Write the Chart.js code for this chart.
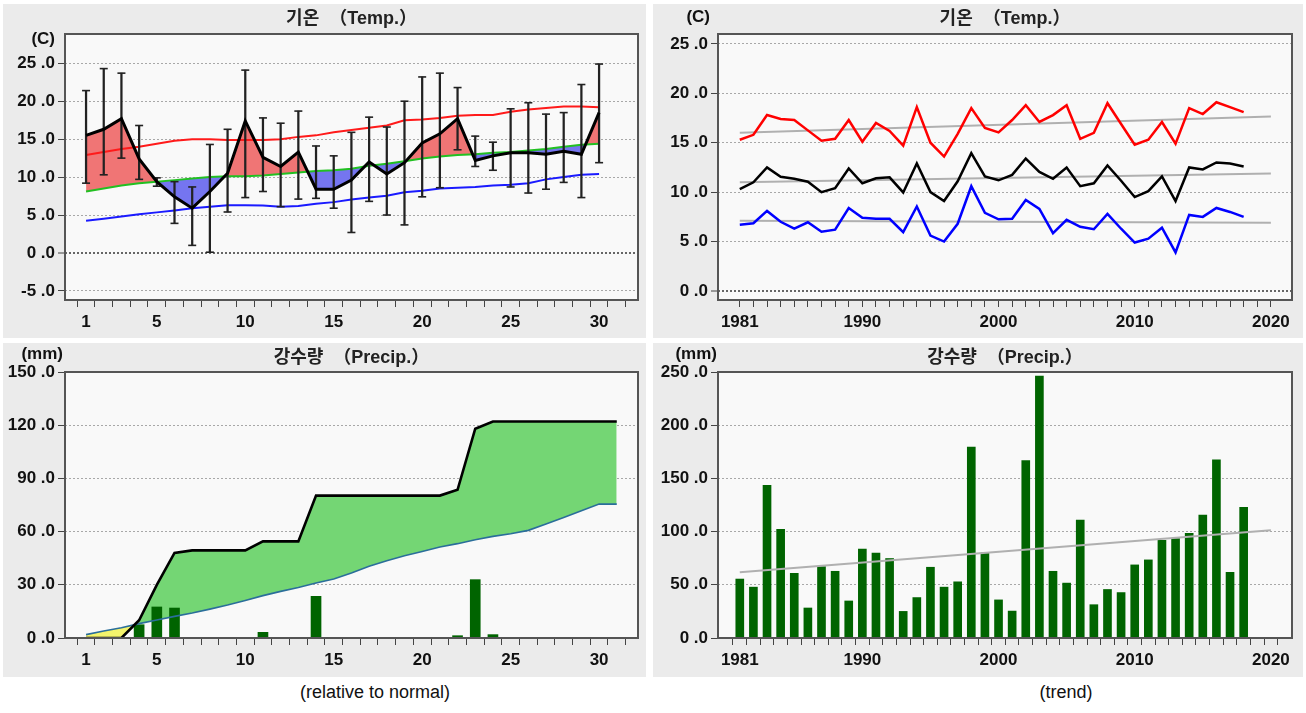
<!DOCTYPE html>
<html><head><meta charset="utf-8">
<script src="https://cdn.jsdelivr.net/npm/chart.js@4.4.1/dist/chart.umd.min.js"></script>
<style>
html,body{margin:0;padding:0;background:#fff;width:1306px;height:713px;overflow:hidden;position:relative;}
canvas{position:absolute;background:#ebebeb;}
.cap{position:absolute;font:18px 'Liberation Sans',Arial,sans-serif;color:#111;white-space:nowrap;transform:translateX(-50%);line-height:20px;}
</style></head><body>
<canvas id="tl"></canvas>
<canvas id="tr"></canvas>
<canvas id="bl"></canvas>
<canvas id="br"></canvas>
<div class="cap" style="left:375px;top:682px">(relative to normal)</div>
<div class="cap" style="left:1066px;top:682px">(trend)</div>
<script>
// ---------- DATA ----------
// Daily (relative to normal) temperature, days 1..30
const days = [1,2,3,4,5,6,7,8,9,10,11,12,13,14,15,16,17,18,19,20,21,22,23,24,25,26,27,28,29,30];
const obsMean = [15.5,16.3,17.7,12.4,9.4,7.4,5.9,8.1,10.5,17.4,12.6,11.4,13.3,8.4,8.4,9.6,12.0,10.4,11.9,14.5,15.7,17.7,12.2,12.8,13.2,13.2,13.0,13.4,13.0,18.5];
const obsMax  = [21.4,24.3,23.7,16.8,9.9,9.4,8.7,14.3,16.3,24.1,17.8,17.1,18.7,14.1,12.8,15.9,17.9,16.6,20.0,23.2,23.7,21.8,15.4,14.6,19.0,19.8,18.3,18.5,22.2,24.9];
const obsMin  = [9.2,10.3,12.5,9.7,8.8,3.9,1.0,0.1,5.4,7.3,8.1,6.1,7.1,7.2,5.9,2.7,6.8,5.0,3.7,7.4,8.6,13.6,11.4,10.9,8.7,7.9,8.4,9.3,7.3,11.9];
const normMax  = [12.9,13.3,13.7,14.0,14.4,14.8,15.0,15.0,14.9,14.9,14.9,15.0,15.3,15.5,15.9,16.2,16.5,16.8,17.5,17.6,17.8,18.1,18.2,18.2,18.6,18.9,19.1,19.3,19.3,19.2];
const normMean = [8.1,8.5,8.9,9.2,9.4,9.6,9.8,10.0,10.1,10.1,10.2,10.4,10.6,10.8,10.9,11.1,11.5,11.75,12.1,12.45,12.7,12.9,13.0,13.2,13.3,13.5,13.7,14.0,14.25,14.4];
const normMin  = [4.25,4.5,4.8,5.1,5.35,5.6,5.9,6.1,6.3,6.3,6.25,6.1,6.2,6.5,6.7,7.05,7.3,7.55,8.0,8.2,8.5,8.6,8.7,8.9,9.0,9.2,9.7,10.0,10.3,10.4];
const dayTicks = [1,2,3,4,5,6,7,8,9,10,11,12,13,14,15,16,17,18,19,20,21,22,23,24,25,26,27,28,29,30,31];
const dayLabels = [1,5,10,15,20,25,30];
const tempTicks = [-5,0,5,10,15,20,25];

// Yearly temperature trend 1981..2018
const years = [1981,1982,1983,1984,1985,1986,1987,1988,1989,1990,1991,1992,1993,1994,1995,1996,1997,1998,1999,2000,2001,2002,2003,2004,2005,2006,2007,2008,2009,2010,2011,2012,2013,2014,2015,2016,2017,2018];
const yrMax  = [15.3,15.8,17.8,17.4,17.3,16.25,15.2,15.4,17.3,15.1,17.0,16.2,14.7,18.6,15.0,13.6,15.9,18.5,16.5,16.05,17.3,18.8,17.1,17.8,18.8,15.4,16.0,19.0,16.9,14.8,15.3,17.1,14.9,18.5,17.9,19.1,18.6,18.1];
const yrMean = [10.3,11.0,12.5,11.55,11.35,11.05,10.0,10.4,12.4,10.9,11.4,11.5,9.97,12.9,10.0,9.1,11.1,13.95,11.6,11.2,11.75,13.4,12.05,11.35,12.5,10.6,10.9,12.7,11.15,9.5,10.1,11.6,9.1,12.5,12.3,13.0,12.9,12.6];
const yrMin  = [6.7,6.85,8.1,7.0,6.3,6.95,6.0,6.2,8.4,7.4,7.3,7.3,5.95,8.55,5.6,5.0,6.8,10.6,7.9,7.25,7.3,9.2,8.3,5.85,7.2,6.5,6.25,7.8,6.3,4.9,5.3,6.4,3.9,7.7,7.5,8.4,8.0,7.5];
const trendYears = [1981,2020];
const trendMax  = [16.0,17.65];
const trendMean = [11.0,11.9];
const trendMin  = [7.1,6.9];
const yearTicks = [1981,1982,1983,1984,1985,1986,1987,1988,1989,1990,1991,1992,1993,1994,1995,1996,1997,1998,1999,2000,2001,2002,2003,2004,2005,2006,2007,2008,2009,2010,2011,2012,2013,2014,2015,2016,2017,2018,2019,2020];
const yearLabels = [1981,1990,2000,2010,2020];
const yrTempTicks = [0,5,10,15,20,25];

// Daily precipitation (relative to normal)
const cumDays = [1,2,3,4,5,6,7,8,9,10,11,12,13,14,15,16,17,18,19,20,21,22,23,24,25,26,27,28,29,30,31];
const cumObs  = [0,0,0,10,30,48,49.4,49.4,49.4,49.4,54.5,54.5,54.5,80.3,80.3,80.3,80.3,80.3,80.3,80.3,80.3,83.6,118,122.1,122.1,122.1,122.1,122.1,122.1,122.1,122.1];
const cumNorm = [1.9,3.9,5.8,8.1,10.2,12.2,14.1,16.3,18.6,21.2,23.9,26.3,28.5,31.0,33.3,36.7,40.4,43.6,46.4,48.8,51.3,53.2,55.4,57.3,58.8,60.7,64.3,68.0,71.8,75.5,75.5];
const dailyPrecip = [0,0,0,7.5,17.5,16.9,0,0,0,0,3.2,0,0,23.5,0,0,0,0,0,0,0,1.3,32.9,1.9,0,0,0,0,0,0];
const precipTicks = [0,30,60,90,120,150];

// Yearly precipitation trend 1981..2018
const yrPrecip = [55.4,47.8,143.4,102.2,60.8,28.2,67.1,62.7,34.8,83.5,79.7,74.7,25.0,38.0,66.5,47.8,52.8,179.4,80.1,35.8,25.3,166.8,246.2,62.7,51.6,110.8,31.3,45.6,42.7,68.7,73.4,91.8,93.4,98.4,115.5,167.4,61.7,122.8];
const trendPrecip = [61.7,101.3];
const yrPrecipTicks = [0,50,100,150,200,250];

// ---------- RENDERING ----------
const FONT = "'Liberation Sans', Arial, 'Noto Sans CJK KR', sans-serif";
Chart.defaults.font.family = FONT;
Chart.defaults.font.size = 17;
Chart.defaults.font.weight = 'bold';
Chart.defaults.color = '#111';

const pts = (xs, ys) => xs.map((x, i) => ({x: x, y: ys[i]}));
const fmt = v => Number(v).toFixed(1).replace('.', ' .');

const deco = {
  id: 'deco',
  beforeDraw(chart) {
    const {ctx, chartArea: a} = chart;
    ctx.save();
    ctx.fillStyle = '#f9f9f9';
    ctx.fillRect(a.left, a.top, a.right - a.left, a.bottom - a.top);
    ctx.restore();
  },
  afterDraw(chart, args, o) {
    const {ctx, chartArea: a} = chart;
    ctx.save();
    ctx.strokeStyle = '#555';
    ctx.lineWidth = 2;
    ctx.strokeRect(a.left, a.top, a.right - a.left, a.bottom - a.top);
    ctx.font = 'bold 17px ' + FONT;
    ctx.fillStyle = '#111';
    ctx.textAlign = 'right';
    ctx.textBaseline = 'middle';
    ctx.fillText(o.unit, a.left + o.dx, o.y);
    ctx.restore();
  }
};

function makeChart(id, panel, plot, cfg) {
  const c = document.getElementById(id);
  c.width = panel.w; c.height = panel.h;
  c.style.left = panel.x + 'px'; c.style.top = panel.y + 'px';
  const yW = plot.l - panel.x;
  const titleH = plot.t - panel.y;
  const xH = panel.y + panel.h - plot.b;
  const padR = panel.x + panel.w - plot.r;
  const zeroStrong = cfg.zeroStrong;
  return new Chart(c, {
    type: 'line',
    data: {datasets: cfg.datasets},
    plugins: [deco],
    options: {
      responsive: false, animation: false, devicePixelRatio: 1, events: [],
      layout: {padding: {left: 0, top: 0, right: padR, bottom: 0}},
      plugins: {
        legend: {display: false}, tooltip: {enabled: false},
        filler: {drawTime: 'beforeDatasetsDraw'},
        title: {display: true, text: cfg.title, fullSize: false, color: '#222',
          font: {size: 18, weight: 'bold', lineHeight: 20/18},
          padding: {top: cfg.titleTop, bottom: titleH - 20 - cfg.titleTop}},
        deco: {unit: cfg.unit, dx: cfg.unitDx, y: cfg.unitY}
      },
      scales: {
        x: {type: 'linear', position: 'bottom', min: cfg.xMin, max: cfg.xMax, offset: false,
          afterBuildTicks: s => { s.ticks = cfg.xTicks.map(v => ({value: v})); },
          afterFit: s => { s.height = xH; },
          ticks: {autoSkip: false, maxRotation: 0, minRotation: 0, padding: 5,
            callback: v => cfg.xLabels.includes(v) ? String(v) : ''},
          grid: {drawOnChartArea: false, tickColor: '#444', tickLength: 7, tickWidth: 1},
          border: {display: false}},
        y: {type: 'linear', position: 'left', min: cfg.yMin, max: cfg.yMax,
          afterBuildTicks: s => { s.ticks = cfg.yTicks.map(v => ({value: v})); },
          afterFit: s => { s.width = yW; },
          ticks: {padding: 3, callback: v => fmt(v)},
          grid: {
            color: ctx => (zeroStrong && ctx.tick && ctx.tick.value === 0) ? '#666' : '#a8a8a8',
            lineWidth: ctx => (zeroStrong && ctx.tick && ctx.tick.value === 0) ? 2 : 1,
            tickColor: '#444', tickLength: 7, tickWidth: 1},
          border: {display: false, dash: [2, 2]}}
      }
    }
  });
}

// Top-left: daily temperature vs normal
makeChart('tl', {x: 3, y: 4, w: 643, h: 334}, {l: 65, t: 34, r: 638, b: 300}, {
  title: '기온  （Temp.）', titleTop: 5, unit: '(C)', unitDx: -10, unitY: 35, zeroStrong: true,
  xMin: -0.19, xMax: 32.2, xTicks: dayTicks, xLabels: dayLabels,
  yMin: -6.2, yMax: 28.86, yTicks: tempTicks,
  datasets: [
    {label: '평년 평균', data: pts(days, normMean), borderColor: '#22c022', borderWidth: 2, pointRadius: 0, fill: false, order: 3},
    {label: '평균기온', data: pts(days, obsMean), borderColor: '#000', borderWidth: 3, pointRadius: 0, order: 0,
      fill: {target: 0, above: '#f07575', below: '#7575f0'}},
    {label: '평년 최고', data: pts(days, normMax), borderColor: '#ff1a1a', borderWidth: 2, pointRadius: 0, fill: false, order: 3},
    {label: '평년 최저', data: pts(days, normMin), borderColor: '#1a1aff', borderWidth: 2, pointRadius: 0, fill: false, order: 3},
    {type: 'bar', label: '범위', data: days.map((d, i) => ({x: d, y: [obsMin[i], obsMax[i]]})),
      backgroundColor: '#222', borderWidth: 0, barThickness: 1.6, order: 2},
    {label: '최고', data: pts(days, obsMax), showLine: false, pointStyle: 'line', pointRadius: 4,
      pointBorderWidth: 1.6, pointBorderColor: '#222', borderColor: '#222', fill: false, order: 1},
    {label: '최저', data: pts(days, obsMin), showLine: false, pointStyle: 'line', pointRadius: 4,
      pointBorderWidth: 1.6, pointBorderColor: '#222', borderColor: '#222', fill: false, order: 1}
  ]
});

// Top-right: yearly temperature trend
makeChart('tr', {x: 653, y: 4, w: 650, h: 334}, {l: 718, t: 34, r: 1292, b: 300}, {
  title: '기온  （Temp.）', titleTop: 5, unit: '(C)', unitDx: -8, unitY: 13, zeroStrong: true,
  xMin: 1979.4, xMax: 2021.55, xTicks: yearTicks, xLabels: yearLabels,
  yMin: -0.91, yMax: 26.0, yTicks: yrTempTicks,
  datasets: [
    {label: '최고 추세', data: pts(trendYears, trendMax), borderColor: '#b0b0b0', borderWidth: 2, pointRadius: 0, fill: false, order: 3},
    {label: '평균 추세', data: pts(trendYears, trendMean), borderColor: '#b0b0b0', borderWidth: 2, pointRadius: 0, fill: false, order: 3},
    {label: '최저 추세', data: pts(trendYears, trendMin), borderColor: '#b0b0b0', borderWidth: 2, pointRadius: 0, fill: false, order: 3},
    {label: '최고기온', data: pts(years, yrMax), borderColor: '#ff0000', borderWidth: 2.5, pointRadius: 0, fill: false, order: 1},
    {label: '평균기온', data: pts(years, yrMean), borderColor: '#000000', borderWidth: 2.5, pointRadius: 0, fill: false, order: 1},
    {label: '최저기온', data: pts(years, yrMin), borderColor: '#0000ff', borderWidth: 2.5, pointRadius: 0, fill: false, order: 1}
  ]
});

// Bottom-left: cumulative precipitation vs normal
makeChart('bl', {x: 3, y: 343, w: 643, h: 334}, {l: 65, t: 372, r: 638, b: 638}, {
  title: '강수량  （Precip.）', titleTop: 5, unit: '(mm)', unitDx: -2, unitY: 11, zeroStrong: false,
  xMin: -0.19, xMax: 32.2, xTicks: dayTicks, xLabels: dayLabels,
  yMin: 0, yMax: 150, yTicks: precipTicks,
  datasets: [
    {label: '평년 누적', data: pts(cumDays, cumNorm), borderColor: '#2a6e9a', borderWidth: 1.6, pointRadius: 0, fill: false, order: 2},
    {label: '누적 강수량', data: pts(cumDays, cumObs), borderColor: '#000', borderWidth: 2.6, pointRadius: 0, order: 0,
      fill: {target: 0, above: '#74d674', below: '#f4f46c'}},
    {type: 'bar', label: '일강수량', data: pts(days, dailyPrecip), backgroundColor: '#006400', borderWidth: 0, barThickness: 10, order: 3}
  ]
});

// Bottom-right: yearly precipitation trend
makeChart('br', {x: 653, y: 343, w: 650, h: 334}, {l: 718, t: 372, r: 1292, b: 638}, {
  title: '강수량  （Precip.）', titleTop: 5, unit: '(mm)', unitDx: -1, unitY: 11, zeroStrong: false,
  xMin: 1979.4, xMax: 2021.55, xTicks: yearTicks, xLabels: yearLabels,
  yMin: 0, yMax: 250, yTicks: yrPrecipTicks,
  datasets: [
    {type: 'bar', label: '강수량', data: pts(years, yrPrecip), backgroundColor: '#006400', borderWidth: 0, barThickness: 8, order: 2},
    {label: '추세', data: pts(trendYears, trendPrecip), borderColor: '#b0b0b0', borderWidth: 2, pointRadius: 0, fill: false, order: 1}
  ]
});
</script>
</body></html>
